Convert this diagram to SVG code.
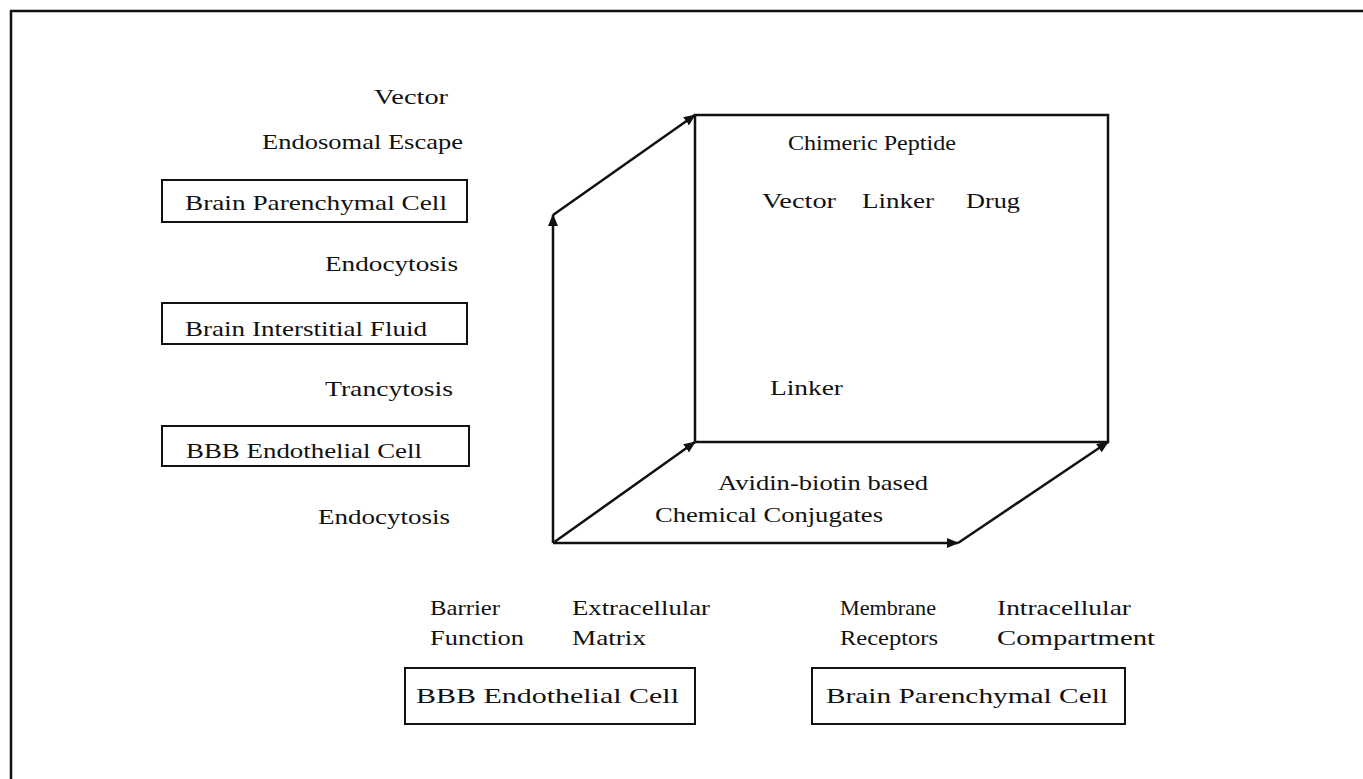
<svg xmlns="http://www.w3.org/2000/svg" width="1363" height="779" viewBox="0 0 1363 779">
<style>
text{font-family:"Liberation Serif","Times New Roman",serif;font-size:22px;fill:#111}
.box{fill:none;stroke:#111;stroke-width:2}
.ln{fill:none;stroke:#111;stroke-width:2.5}
</style>
<defs>
<marker id="ah" viewBox="0 0 12 10" refX="11" refY="5" markerWidth="12" markerHeight="10" markerUnits="userSpaceOnUse" orient="auto">
<path d="M0,0 L12,5 L0,10 Z" fill="#111"/>
</marker>
</defs>
<rect width="1363" height="779" fill="#fff"/>
<path class="ln" d="M11,779 V11 H1363"/>

<g id="left-labels">
<text x="374" y="104" textLength="74" lengthAdjust="spacingAndGlyphs">Vector</text>
<text x="262" y="149" textLength="201" lengthAdjust="spacingAndGlyphs">Endosomal Escape</text>
<text x="325" y="271" textLength="133" lengthAdjust="spacingAndGlyphs">Endocytosis</text>
<text x="325" y="396" textLength="128" lengthAdjust="spacingAndGlyphs">Trancytosis</text>
<text x="318" y="524" textLength="132" lengthAdjust="spacingAndGlyphs">Endocytosis</text>
</g>
<g id="box-parenchymal-left">
<rect class="box" x="162" y="180" width="305" height="42"/>
<text x="185" y="210" textLength="262" lengthAdjust="spacingAndGlyphs">Brain Parenchymal Cell</text>
</g>
<g id="box-interstitial">
<rect class="box" x="162" y="303" width="305" height="41"/>
<text x="185" y="336" textLength="242" lengthAdjust="spacingAndGlyphs">Brain Interstitial Fluid</text>
</g>
<g id="box-bbb-left">
<rect class="box" x="162" y="426" width="307" height="40"/>
<text x="186" y="458" textLength="236" lengthAdjust="spacingAndGlyphs">BBB Endothelial Cell</text>
</g>

<g id="connectors">
<path class="ln" d="M695,115 H1108 V442 H695 Z"/>
<path class="ln" d="M553,543 V215" marker-end="url(#ah)"/>
<path class="ln" d="M553,215 L695,115" marker-end="url(#ah)"/>
<path class="ln" d="M553,543 L695,442" marker-end="url(#ah)"/>
<path class="ln" d="M553,543 H958" marker-end="url(#ah)"/>
<path class="ln" d="M958,543 L1108,442" marker-end="url(#ah)"/>
</g>

<g id="cube-labels">
<text x="788" y="150" textLength="168" lengthAdjust="spacingAndGlyphs">Chimeric Peptide</text>
<text x="762" y="208" textLength="74" lengthAdjust="spacingAndGlyphs">Vector</text>
<text x="862" y="208" textLength="72" lengthAdjust="spacingAndGlyphs">Linker</text>
<text x="966" y="208" textLength="54" lengthAdjust="spacingAndGlyphs">Drug</text>
<text x="770" y="395" textLength="73" lengthAdjust="spacingAndGlyphs">Linker</text>
<text x="718" y="490" textLength="210" lengthAdjust="spacingAndGlyphs">Avidin-biotin based</text>
<text x="655" y="522" textLength="228" lengthAdjust="spacingAndGlyphs">Chemical Conjugates</text>
</g>

<g id="bottom-labels">
<text x="430" y="615" textLength="70" lengthAdjust="spacingAndGlyphs">Barrier</text>
<text x="430" y="645" textLength="94" lengthAdjust="spacingAndGlyphs">Function</text>
<text x="572" y="615" textLength="138" lengthAdjust="spacingAndGlyphs">Extracellular</text>
<text x="572" y="645" textLength="74" lengthAdjust="spacingAndGlyphs">Matrix</text>
<text x="840" y="615" textLength="96" lengthAdjust="spacingAndGlyphs">Membrane</text>
<text x="840" y="645" textLength="98" lengthAdjust="spacingAndGlyphs">Receptors</text>
<text x="997" y="615" textLength="134" lengthAdjust="spacingAndGlyphs">Intracellular</text>
<text x="997" y="645" textLength="158" lengthAdjust="spacingAndGlyphs">Compartment</text>
</g>
<g id="box-bbb-bottom">
<rect class="box" x="405" y="668" width="290" height="56"/>
<text x="416" y="703" textLength="263" lengthAdjust="spacingAndGlyphs">BBB Endothelial Cell</text>
</g>
<g id="box-parenchymal-bottom">
<rect class="box" x="812" y="668" width="313" height="56"/>
<text x="826" y="703" textLength="282" lengthAdjust="spacingAndGlyphs">Brain Parenchymal Cell</text>
</g>
</svg>
